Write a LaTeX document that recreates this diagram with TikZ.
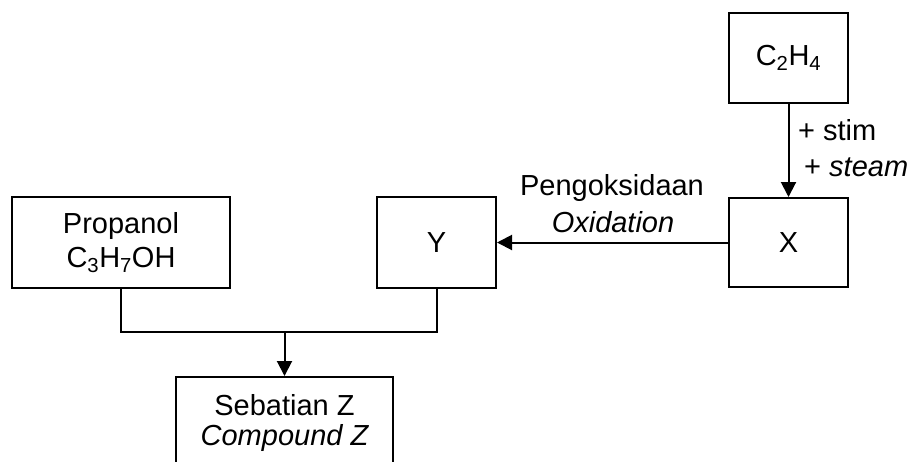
\documentclass[tikz,border=0pt]{standalone}
\usepackage{fontspec}
\setmainfont{Liberation Sans}
\usetikzlibrary{arrows.meta}
\begin{document}
\begin{tikzpicture}[x=1pt,y=-1pt,
  every node/.style={font=\fontsize{29}{34}\selectfont},
  boxnode/.style={draw,line width=2pt,inner sep=0pt,align=center},
  conn/.style={line width=2pt},
  arr/.style={conn,-{Triangle[length=15pt,width=15pt]}},
  lbl/.style={inner sep=0pt,anchor=west}]
\useasboundingbox (0,0) rectangle (910,461);
\clip (0,0) rectangle (910,461);
\node[boxnode,minimum width=218pt,minimum height=91pt] (prop) at (121,242.5) {Propanol\\C\textsubscript{3}H\textsubscript{7}OH};
\node[boxnode,minimum width=119pt,minimum height=91pt] (y) at (436.5,242.5) {Y};
\node[boxnode,minimum width=119pt,minimum height=89pt] (x) at (788.5,242.5) {X};
\node[boxnode,minimum width=119pt,minimum height=90pt] (c2) at (788.5,58) {C\textsubscript{2}H\textsubscript{4}};
\node[boxnode,minimum width=217pt,minimum height=100pt,anchor=north] (z) at (284.5,376) {};
\node[inner sep=0pt] (zt1) at (284.5,405) {Sebatian Z};
\node[inner sep=0pt] (zt2) at (284.5,438) {\itshape Compound Z};
\coordinate (j) at (284.5,332);
\draw[conn] (prop.south) |- (j) -| (y.south);
\draw[arr] (j) -- (z.north);
\draw[arr] (c2.south) -- (x.north);
\draw[arr] (x.west) -- (y.east);
\node[lbl] (s1) at (798,130) {+ stim};
\node[lbl] (s2) at (804,167) {+ \itshape steam};
\node[inner sep=0pt] (o1) at (612,188) {Pengoksidaan};
\node[inner sep=0pt] (o2) at (613,222) {\itshape Oxidation};
\end{tikzpicture}
\end{document}
